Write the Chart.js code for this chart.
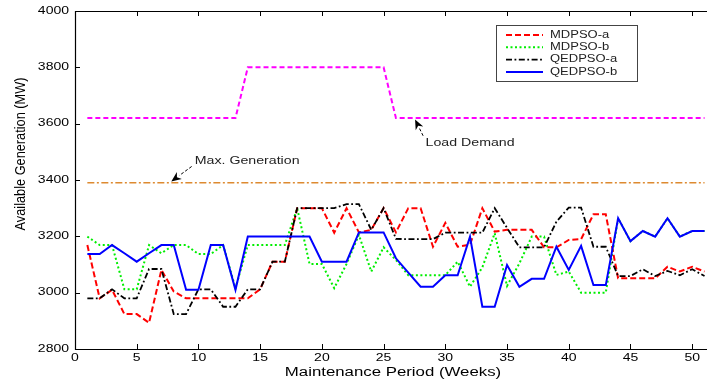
<!DOCTYPE html>
<html>
<head>
<meta charset="utf-8">
<script src="https://cdn.jsdelivr.net/npm/chart.js@4"></script>
<style>
  body { margin: 0; background: #fff; }
  canvas { display: block; }
</style>
</head>
<body>
<canvas id="canvas" width="707" height="381"></canvas>
<script>
// values
const weeks = [1,2,3,4,5,6,7,8,9,10,11,12,13,14,15,16,17,18,19,20,21,22,23,24,25,26,27,28,29,30,31,32,33,34,35,36,37,38,39,40,41,42,43,44,45,46,47,48,49,50,51];

const mdpsoA = [3169,2980,3010,2924,2924,2893,3081,3004,2980,2980,2980,2980,2980,2980,3012,3110,3110,3300,3300,3300,3213,3300,3214,3223,3300,3214,3300,3300,3163,3248,3163,3170,3300,3217,3223,3223,3223,3161,3161,3187,3190,3278,3278,3051,3051,3051,3051,3092,3075,3092,3075];
const mdpsoB = [3199,3169,3169,3012,3012,3169,3140,3169,3169,3137,3137,3169,3016,3169,3169,3169,3169,3300,3102,3102,3016,3102,3205,3075,3161,3116,3062,3062,3062,3062,3110,3021,3090,3211,3024,3104,3199,3199,3063,3075,3000,3000,3000,3264,3183,3219,3199,3264,3199,3219,3219];
const qedpsoA = [2980,2980,3012,2980,2980,3084,3084,2924,2924,3012,3012,2950,2950,3012,3012,3110,3110,3300,3300,3300,3300,3314,3314,3223,3300,3191,3190,3190,3190,3213,3213,3213,3213,3300,3230,3161,3161,3161,3252,3302,3302,3163,3163,3059,3059,3083,3059,3077,3062,3083,3059];
const qedpsoB = [3137,3137,3169,3140,3110,3140,3169,3169,3010,3010,3169,3169,3010,3199,3199,3199,3199,3199,3199,3110,3110,3110,3214,3214,3214,3122,3071,3021,3021,3062,3062,3199,2950,2950,3098,3021,3049,3049,3163,3081,3166,3027,3027,3264,3183,3219,3199,3264,3199,3219,3219];
const loadDemand = [3620,3620,3620,3620,3620,3620,3620,3620,3620,3620,3620,3620,3620,3800,3800,3800,3800,3800,3800,3800,3800,3800,3800,3800,3800,3620,3620,3620,3620,3620,3620,3620,3620,3620,3620,3620,3620,3620,3620,3620,3620,3620,3620,3620,3620,3620,3620,3620,3620,3620,3620];
const maxGeneration = [3390,3390,3390,3390,3390,3390,3390,3390,3390,3390,3390,3390,3390,3390,3390,3390,3390,3390,3390,3390,3390,3390,3390,3390,3390,3390,3390,3390,3390,3390,3390,3390,3390,3390,3390,3390,3390,3390,3390,3390,3390,3390,3390,3390,3390,3390,3390,3390,3390,3390,3390];

const xTickValues = [0,5,10,15,20,25,30,35,40,45,50];
const yTickValues = [2800,3000,3200,3400,3600,3800,4000];

// arrows with text, in data units (week, MW)
const notes = [
  { text: 'Load Demand', tip: [27.55, 3615], tail: [28.2, 3557], label: [28.4, 3532] },
  { text: 'Max. Generation', tip: [7.8, 3395], tail: [9.45, 3448], label: [9.7, 3468] }
];

const FONT = '"Liberation Sans", Arial, sans-serif';

function pts(arr) {
  return weeks.map((w, i) => ({ x: w, y: arr[i] }));
}

// the figure's text is wider than it is tall, so squeeze it by hand
function wideText(ctx, txt, x, y, size, sx, align, base) {
  ctx.save();
  ctx.font = size + 'px ' + FONT;
  ctx.textAlign = 'left';
  ctx.textBaseline = base || 'middle';
  const w = ctx.measureText(txt).width * sx;
  let x0 = x;
  if (align === 'center') x0 = x - w / 2;
  if (align === 'right') x0 = x - w;
  ctx.translate(x0, y);
  ctx.scale(sx, 1);
  ctx.fillText(txt, 0, 0);
  ctx.restore();
}

function arrow(ctx, x1, y1, x2, y2) {
  const ang = Math.atan2(y2 - y1, x2 - x1);
  const len = 10, half = 4.2;
  const bx = x2 - len * Math.cos(ang), by = y2 - len * Math.sin(ang);
  ctx.save();
  ctx.strokeStyle = '#000';
  ctx.lineWidth = 1;
  ctx.setLineDash([3, 2]);
  ctx.beginPath();
  ctx.moveTo(x1, y1);
  ctx.lineTo(bx, by);
  ctx.stroke();
  ctx.setLineDash([]);
  ctx.fillStyle = '#000';
  ctx.beginPath();
  ctx.moveTo(x2, y2);
  ctx.lineTo(bx + half * Math.sin(ang), by - half * Math.cos(ang));
  ctx.lineTo(bx + 3 * Math.cos(ang), by + 3 * Math.sin(ang));
  ctx.lineTo(bx - half * Math.sin(ang), by + half * Math.cos(ang));
  ctx.closePath();
  ctx.fill();
  ctx.restore();
}

const frame = {
  id: 'frame',
  afterDraw(chart) {
    const { ctx, chartArea: a, scales: { x, y } } = chart;
    ctx.save();
    ctx.strokeStyle = '#000';
    ctx.lineWidth = 1.2;
    ctx.beginPath();
    ctx.moveTo(a.right, a.top + 0.5);
    ctx.lineTo(a.left + 0.5, a.top + 0.5);
    ctx.lineTo(a.left + 0.5, a.bottom + 0.5);
    ctx.lineTo(a.right, a.bottom + 0.5);
    ctx.stroke();

    // inward ticks
    ctx.lineWidth = 1;
    ctx.beginPath();
    x.ticks.forEach(t => {
      const px = Math.round(x.getPixelForValue(t.value)) + 0.5;
      ctx.moveTo(px, a.bottom); ctx.lineTo(px, a.bottom - 5);
      ctx.moveTo(px, a.top); ctx.lineTo(px, a.top + 5);
    });
    y.ticks.forEach(t => {
      const py = Math.round(y.getPixelForValue(t.value)) + 0.5;
      ctx.moveTo(a.left, py); ctx.lineTo(a.left + 5, py);
    });
    ctx.stroke();

    ctx.fillStyle = '#000';
    x.ticks.forEach(t => {
      wideText(ctx, String(t.value), x.getPixelForValue(t.value), a.bottom + 9, 10, 1.4, 'center');
    });
    y.ticks.forEach(t => {
      wideText(ctx, String(t.value), a.left - 6, y.getPixelForValue(t.value), 10, 1.4, 'right');
    });

    // axis titles
    wideText(ctx, 'Maintenance Period (Weeks)', (a.left + a.right) / 2 + 2, 376, 12, 1.4, 'center', 'alphabetic');
    ctx.save();
    ctx.translate(21, 154);
    ctx.rotate(-Math.PI / 2);
    ctx.scale(0.85, 1);
    ctx.font = '15px ' + FONT;
    ctx.textAlign = 'center';
    ctx.textBaseline = 'middle';
    ctx.fillText('Available Generation (MW)', 0, 0);
    ctx.restore();

    // legend box
    const lx = 496, ly = 25, lw = 141, lh = 56;
    ctx.fillStyle = '#fff';
    ctx.fillRect(lx, ly, lw, lh);
    ctx.strokeStyle = '#444';
    ctx.lineWidth = 1;
    ctx.strokeRect(lx + 0.5, ly + 0.5, lw, lh);
    const rows = [0, 1, 2, 3];
    rows.forEach(i => {
      const ds = chart.data.datasets[i];
      const ry = ly + 10 + i * 12.3;
      ctx.save();
      ctx.strokeStyle = ds.borderColor;
      ctx.lineWidth = ds.borderWidth;
      ctx.setLineDash(ds.borderDash || []);
      ctx.beginPath();
      ctx.moveTo(lx + 10, ry); ctx.lineTo(lx + 47, ry);
      ctx.stroke();
      ctx.restore();
      ctx.fillStyle = '#222';
      wideText(ctx, ds.label, lx + 54, ry, 10, 1.3, 'left');
    });

    // arrows and their texts
    notes.forEach(n => {
      arrow(ctx, x.getPixelForValue(n.tail[0]), y.getPixelForValue(n.tail[1]),
        x.getPixelForValue(n.tip[0]), y.getPixelForValue(n.tip[1]));
      ctx.fillStyle = '#222';
      wideText(ctx, n.text, x.getPixelForValue(n.label[0]), y.getPixelForValue(n.label[1]), 10.5, 1.35, 'left');
    });
    ctx.restore();
  }
};

const ctx = document.getElementById('canvas').getContext('2d');
const chart = new Chart(ctx, {
  type: 'line',
  data: {
    datasets: [
      { label: 'MDPSO-a', data: pts(mdpsoA), borderColor: '#ff0000', borderWidth: 2, borderDash: [6, 3], order: 2 },
      { label: 'MDPSO-b', data: pts(mdpsoB), borderColor: '#00ee00', borderWidth: 2, borderDash: [2, 2.5], order: 3 },
      { label: 'QEDPSO-a', data: pts(qedpsoA), borderColor: '#000000', borderWidth: 1.8, borderDash: [6, 2.5, 1.8, 2.5], order: 1 },
      { label: 'QEDPSO-b', data: pts(qedpsoB), borderColor: '#0000ff', borderWidth: 2, order: 0 },
      { label: 'Load Demand', data: pts(loadDemand), borderColor: '#ff00ff', borderWidth: 2, borderDash: [5, 3], order: 4 },
      { label: 'Max. Generation', data: pts(maxGeneration), borderColor: '#dd8a30', borderWidth: 1.6, borderDash: [7, 2.5, 2, 2.5], order: 5 }
    ]
  },
  options: {
    responsive: false,
    animation: false,
    events: [],
    layout: { padding: { top: 11, left: 0, right: 0, bottom: 0 } },
    elements: {
      point: { radius: 0 },
      line: { tension: 0, fill: false, borderCapStyle: 'butt' }
    },
    plugins: {
      legend: { display: false },
      tooltip: { enabled: false }
    },
    scales: {
      x: {
        type: 'linear',
        min: 0,
        max: 51.2,
        grid: { display: false },
        border: { display: false },
        ticks: { display: false },
        afterBuildTicks: s => { s.ticks = xTickValues.map(v => ({ value: v })); },
        afterFit: s => { s.height = 32; }
      },
      y: {
        min: 2800,
        max: 4000,
        grid: { display: false },
        border: { display: false },
        ticks: { display: false },
        afterBuildTicks: s => { s.ticks = yTickValues.map(v => ({ value: v })); },
        afterFit: s => { s.width = 75; }
      }
    }
  },
  plugins: [frame]
});
</script>
</body>
</html>
